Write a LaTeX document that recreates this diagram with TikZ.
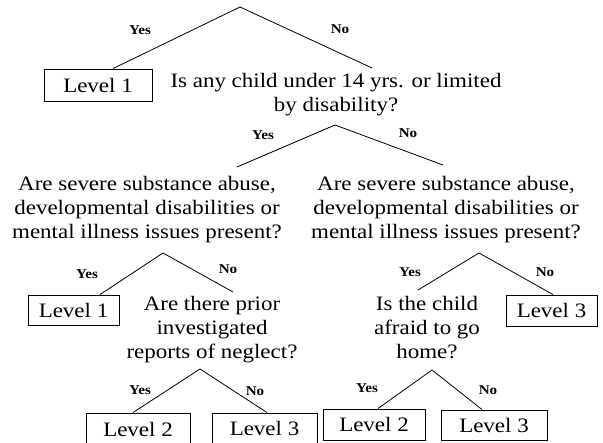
\documentclass[tikz,border=0pt]{standalone}
\usepackage{fontspec}
\setmainfont{Liberation Serif}[FakeStretch=1.12]
\usetikzlibrary{positioning}
\usetikzlibrary{calc}

\begin{document}
\begin{tikzpicture}[
    x=1pt, y=-1pt,
    levelbox/.style={
        draw, line width=0.9pt,
        inner sep=0pt,
        minimum height=30pt,
        font=\fontsize{20.5}{24}\selectfont
    },
    question/.style={
        align=center, inner sep=0pt,
        font=\fontsize{20.5}{24}\selectfont
    },
    answer/.style={font=\fontsize{13.5}{15}\selectfont\bfseries},
    branch/.style={line width=0.8pt}
]
\useasboundingbox (0,0) rectangle (603,443);

% questions
\node[question] (under14) at (336,95) {
    Is any child under 14 yrs. or limited \\
    by disability?
};
\node[question] (issuesL) at (147,210) {
    Are severe substance abuse, \\
    developmental disabilities or \\
    mental illness issues present?
};
\node[question] (issuesR) at (446,210) {
    Are severe substance abuse, \\
    developmental disabilities or \\
    mental illness issues present?
};
\node[question] (prior) at (212,330) {
    Are there prior \\
    investigated \\
    reports of neglect?
};
\node[question] (afraid) at (427,328) {
    Is the child \\
    afraid to go \\
    home?
};

% outcome boxes
\node[levelbox, minimum width=108pt, minimum height=32pt] (top1) at (98,85) {Level 1};
\node[levelbox, minimum width=91pt] (leftL1) at (73.5,310) {Level 1};
\node[levelbox, minimum width=91pt, minimum height=31pt] (rightL3) at (551.5,310.5) {Level 3};
\node[levelbox, minimum width=104pt, minimum height=32pt] (priorYes) at (138,429) {Level 2};
\node[levelbox, minimum width=105pt] (priorNo) at (264.5,428) {Level 3};
\node[levelbox, minimum width=102pt, minimum height=31pt] (afraidYes) at (374,424.5) {Level 2};
\node[levelbox, minimum width=106pt] (afraidNo) at (494,425) {Level 3};

% branch points
\coordinate (root) at (240,7);
\coordinate (rootNo) at (372,68);
\coordinate (under14Tip) at (335,125);
\coordinate (under14Yes) at (237,167);
\coordinate (under14No) at (443,165);
\coordinate (issuesLTip) at (163,253);
\coordinate (issuesLNo) at (233,292);
\coordinate (issuesRTip) at (479,253);
\coordinate (issuesRYes) at (418,290);
\coordinate (priorTip) at (200,369);
\coordinate (afraidTip) at (432,370);

\draw[branch] (root) -- ($(top1.north)+(15,0)$);
\draw[branch] (root) -- (rootNo);
\draw[branch] (under14Tip) -- (under14Yes);
\draw[branch] (under14Tip) -- (under14No);
\draw[branch] (issuesLTip) -- ($(leftL1.north)+(26.5,0)$);
\draw[branch] (issuesLTip) -- (issuesLNo);
\draw[branch] (issuesRTip) -- (issuesRYes);
\draw[branch] (issuesRTip) -- ($(rightL3.north)+(1.5,0)$);
\draw[branch] (priorTip) -- ($(priorYes.north)+(-5,0)$);
\draw[branch] (priorTip) -- ($(priorNo.north)+(2.5,0)$);
\draw[branch] (afraidTip) -- ($(afraidYes.north)+(4,0)$);
\draw[branch] (afraidTip) -- ($(afraidNo.north)+(-12,0)$);

% yes / no labels
\node[answer] (rootYesLbl) at (140,30) {Yes};
\node[answer] (rootNoLbl) at (340,29) {No};
\node[answer] (under14YesLbl) at (263,135) {Yes};
\node[answer] (under14NoLbl) at (408,133) {No};
\node[answer] (issuesLYesLbl) at (87,274) {Yes};
\node[answer] (issuesLNoLbl) at (228,269) {No};
\node[answer] (issuesRYesLbl) at (410,272) {Yes};
\node[answer] (issuesRNoLbl) at (545,272) {No};
\node[answer] (priorYesLbl) at (140,390) {Yes};
\node[answer] (priorNoLbl) at (255,391) {No};
\node[answer] (afraidYesLbl) at (367,388) {Yes};
\node[answer] (afraidNoLbl) at (488,390) {No};
\end{tikzpicture}
\end{document}
